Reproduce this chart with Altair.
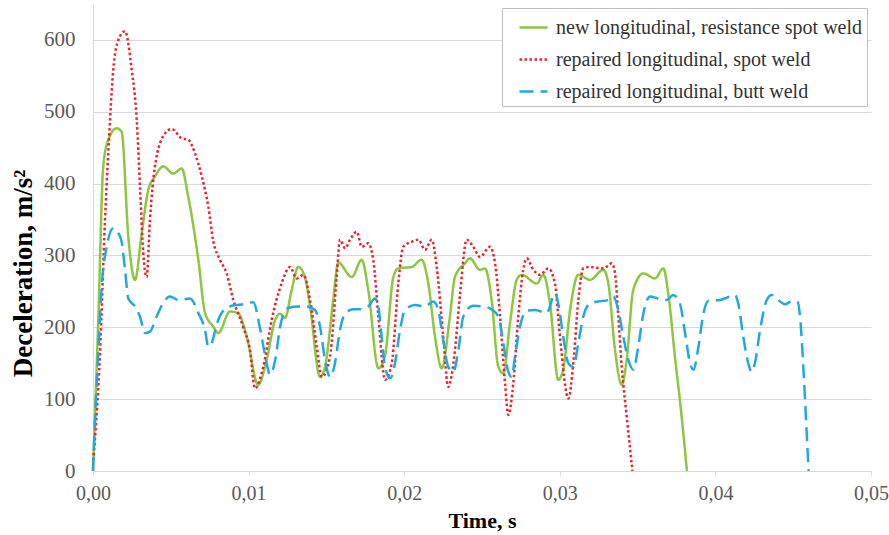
import altair as alt
import pandas as pd

series_names = [
    "new longitudinal, resistance spot weld",
    "repaired longitudinal, spot weld",
    "repaired longitudinal, butt weld",
]
series_colors = ["#8DC63F", "#E3262F", "#20A9E1"]
series_dashes = [[1, 0], [2.5, 2.5], [14, 7]]

x_ticks = [0.0, 0.01, 0.02, 0.03, 0.04, 0.05]
y_ticks = [0, 100, 200, 300, 400, 500, 600]

# time in milliseconds, deceleration in m/s^2
green_t_ms = [0.0, 0.34, 0.66, 1.0, 1.52, 1.84, 2.27, 2.70, 3.13, 3.55, 3.98, 4.52, 5.16, 5.70,
              6.12, 6.77, 7.20, 7.73, 8.05, 8.80, 9.32, 9.88, 10.62, 11.16, 11.70, 12.02, 12.34,
              12.77, 13.19, 13.62, 13.95, 14.59, 14.91, 15.44, 15.76, 16.63, 17.27, 17.69, 18.34,
              18.77, 19.30, 19.62, 20.48, 21.12, 21.55, 21.98, 22.41, 22.94, 23.26, 23.91, 24.23,
              24.87, 25.19, 25.62, 26.05, 26.37, 26.80, 27.23, 27.55, 28.52, 28.94, 29.37, 29.90,
              30.22, 30.66, 31.19, 31.94, 32.80, 33.12, 33.55, 33.98, 34.30, 34.72, 35.37, 36.12,
              36.65, 36.97, 37.40, 37.83, 38.17]
green_v = [0, 210, 424, 462, 477, 472, 326, 266, 331, 391, 410, 424, 414, 421,
           382, 294, 220, 201, 192, 222, 220, 187, 120, 155, 210, 219, 213,
           252, 284, 270, 229, 131, 145, 238, 290, 270, 294, 252, 143,
           161, 270, 282, 284, 294, 261, 187, 143, 215, 270, 289, 296,
           280, 282, 238, 145, 136, 206, 266, 273, 261, 273, 233, 127,
           141, 224, 273, 266, 280, 261, 168, 120, 155, 252, 275, 268,
           282, 247, 159, 76, 0]

red_t_ms = [0.02, 0.45, 0.77, 0.98, 1.30, 1.63, 2.06, 2.49, 2.81, 3.02, 3.23, 3.45, 3.66, 3.98,
            4.63, 5.06, 5.70, 6.12, 6.56, 6.99, 7.41, 7.73, 8.16, 8.59, 9.02, 9.66, 10.09, 10.41,
            10.94, 11.48, 12.12, 12.66, 13.09, 13.52, 13.95, 14.38, 14.70, 15.23, 15.66, 15.87,
            16.20, 16.52, 16.95, 17.27, 17.69, 18.01, 18.34, 18.77, 19.20, 19.62, 19.94, 20.48,
            20.91, 21.34, 21.77, 22.09, 22.51, 22.83, 23.26, 23.59, 24.02, 24.44, 24.87, 25.51,
            25.84, 26.16, 26.48, 26.69, 27.01, 27.33, 27.65, 27.87, 28.30, 28.73, 29.26, 29.69,
            30.01, 30.55, 30.87, 31.19, 31.51, 31.94, 32.80, 33.34, 33.55, 33.76, 33.98, 34.30,
            34.67]
red_v = [15, 164, 349, 442, 558, 600, 612, 558, 489, 396, 303, 270, 349, 424,
         470, 476, 463, 461, 442, 410, 368, 320, 294, 275, 238, 200, 168, 115,
         145, 210, 261, 284, 268, 273, 238, 173, 131, 159, 270, 322,
         310, 322, 333, 312, 317, 294, 215, 127, 150, 261, 312, 319,
         322, 308, 322, 284, 187, 117, 168, 247, 322, 312, 298, 312,
         289, 215, 122, 78, 122, 215, 280, 296, 280, 273, 282, 261,
         187, 101, 150, 238, 282, 284, 282, 289, 275, 215, 145, 76,
         0]

blue_t_ms = [0.0, 0.13, 0.34, 0.56, 0.88, 1.30, 1.63, 1.84, 2.06, 2.27, 2.70, 3.02, 3.34, 3.66,
             4.09, 4.63, 4.95, 5.48, 6.23, 6.77, 7.20, 7.41, 7.63, 7.95, 8.42, 9.13, 9.66, 10.30,
             10.73, 11.05, 11.38, 11.73, 12.02, 12.45, 13.09, 13.73, 14.27, 14.59, 14.91, 15.23,
             15.55, 15.87, 16.20, 16.73, 17.27, 17.69, 18.12, 18.34, 18.55, 18.77, 19.09, 19.41,
             19.73, 20.05, 20.69, 21.34, 21.87, 22.19, 22.51, 22.83, 23.16, 23.48, 23.80, 24.44,
             25.08, 25.62, 26.05, 26.37, 26.69, 26.91, 27.12, 27.44, 27.87, 28.41, 29.16, 29.69,
             29.90, 30.22, 30.55, 30.87, 31.19, 31.51, 31.94, 32.47, 33.12, 33.44, 33.76, 34.08,
             34.40, 34.72, 35.04, 35.37, 35.80, 36.33, 36.87, 37.29, 37.72, 38.05, 38.37, 38.59,
             38.91, 39.23, 39.55, 40.30, 40.94, 41.26, 41.47, 41.79, 42.11, 42.33, 42.54, 42.87,
             43.30, 43.62, 44.04, 44.47, 44.90, 45.26, 45.44, 45.65, 45.87, 45.99]
blue_v = [0, 71, 164, 257, 312, 338, 331, 319, 280, 240, 229, 215, 192, 194,
          215, 238, 243, 238, 240, 220, 196, 173, 178, 204, 224, 231, 232, 235,
          199, 162, 134, 157, 200, 226, 229, 229, 224, 201, 155, 131,
          150, 196, 219, 225, 225, 229, 240, 229, 187, 145, 129, 150,
          196, 224, 231, 229, 236, 224, 182, 145, 138, 168, 215, 230,
          229, 225, 215, 178, 138, 131, 159, 201, 223, 224, 220, 247,
          233, 187, 150, 145, 178, 215, 233, 236, 238, 243, 224, 187,
          155, 141, 173, 219, 243, 240, 238, 245, 233, 192, 150, 141,
          173, 219, 237, 238, 243, 245, 233, 187, 150, 138, 150, 196,
          238, 245, 238, 232, 236, 236, 215, 145, 52, 0]

rows = []
for name, ts, vs in [
    (series_names[0], green_t_ms, green_v),
    (series_names[1], red_t_ms, red_v),
    (series_names[2], blue_t_ms, blue_v),
]:
    for i, (t, v) in enumerate(zip(ts, vs)):
        rows.append({"series": name, "t": t / 1000.0, "v": v, "i": i})
df = pd.DataFrame(rows)

FONT = "Liberation Serif"

legend = alt.Legend(
    title=None,
    orient="none",
    legendX=409,
    legendY=4,
    symbolType="stroke",
    symbolSize=784,
    symbolStrokeWidth=2.5,
    symbolOffset=12,
    labelFont=FONT,
    labelFontSize=20,
    labelColor="#333333",
    labelLimit=500,
    labelOffset=7,
    rowPadding=6,
    padding=4,
    fillColor="white",
    strokeColor="#BFBFBF",
)

chart = (
    alt.Chart(df)
    .mark_line(interpolate="monotone", strokeWidth=2.5)
    .encode(
        x=alt.X(
            "t:Q",
            scale=alt.Scale(domain=[0, 0.05], nice=False),
            axis=alt.Axis(
                values=x_ticks,
                labelExpr="replace(format(datum.value, '.2f'), '.', ',')",
                title="Time, s",
                grid=False,
                ticks=True,
                tickSize=5,
                tickColor="#D9D9D9",
                domainColor="#D9D9D9",
                labelFlush=False,
                labelFont=FONT,
                labelFontSize=20,
                labelColor="#595959",
                labelPadding=7,
                titleFont=FONT,
                titleFontSize=22,
                titleFontWeight="bold",
                titleColor="#000000",
                titlePadding=7,
            ),
        ),
        y=alt.Y(
            "v:Q",
            scale=alt.Scale(domain=[0, 650], nice=False),
            axis=alt.Axis(
                values=y_ticks,
                title="Deceleration, m/s²",
                grid=True,
                gridColor="#D9D9D9",
                ticks=False,
                domainColor="#D9D9D9",
                labelFlush=False,
                labelFont=FONT,
                labelFontSize=21,
                labelColor="#595959",
                labelPadding=18,
                titleFont=FONT,
                titleFontSize=27,
                titleFontWeight="bold",
                titleColor="#000000",
                titleAngle=270,
                titleAlign="center",
                titleBaseline="middle",
                titleX=-70,
                titleY=269,
            ),
        ),
        color=alt.Color(
            "series:N",
            scale=alt.Scale(domain=series_names, range=series_colors),
            legend=legend,
        ),
        strokeDash=alt.StrokeDash(
            "series:N",
            scale=alt.Scale(domain=series_names, range=series_dashes),
            legend=legend,
        ),
        order="i:Q",
    )
    .properties(
        width=778,
        height=467,
        autosize=alt.AutoSizeParams(type="none"),
        padding={"left": 93, "top": 4, "right": 18, "bottom": 64},
        background="white",
    )
    .configure(font=FONT)
    .configure_axis(labelFont=FONT, titleFont=FONT)
    .configure_legend(labelFont=FONT)
    .configure_view(stroke=None)
)

chart.save("out.html", embed_options={"renderer": "svg", "actions": False})
